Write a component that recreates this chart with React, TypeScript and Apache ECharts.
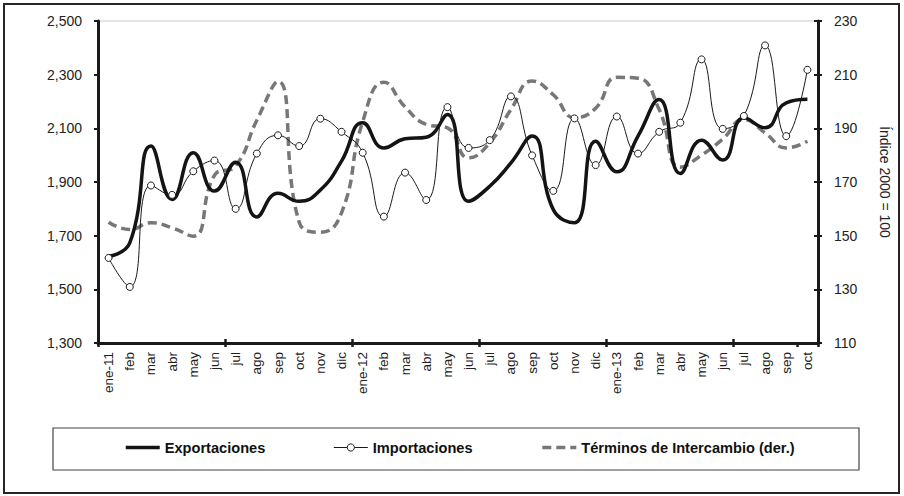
import React, { useEffect, useRef } from "react";
import * as echarts from "echarts";

const categories = [
  "ene-11", "feb", "mar", "abr", "may", "jun", "jul", "ago", "sep", "oct", "nov", "dic",
  "ene-12", "feb", "mar", "abr", "may", "jun", "jul", "ago", "sep", "oct", "nov", "dic",
  "ene-13", "feb", "mar", "abr", "may", "jun", "jul", "ago", "sep", "oct",
];

const exportaciones = [
  1623, 1673, 2034, 1835, 2009, 1866, 1974, 1770, 1858, 1828, 1870, 1978,
  2121, 2027, 2061, 2067, 2152, 1828, 1884, 1971, 2071, 1797, 1748, 2052,
  1938, 2071, 2207, 1932, 2056, 1982, 2139, 2102, 2195, 2208,
];

const importaciones = [
  1617, 1509, 1887, 1852, 1940, 1980, 1800, 2006, 2074, 2034, 2136, 2087,
  2009, 1771, 1935, 1833, 2179, 2027, 2056, 2219, 1999, 1867, 2137, 1963,
  2144, 2006, 2087, 2121, 2357, 2098, 2146, 2409, 2071, 2318,
];

const terminos = [
  155, 152.3, 154.8, 152.9, 149.8, 172.5, 176, 193, 207.5, 155, 151.3, 158.5,
  192.5, 207.2, 198, 191.5, 190.2, 179, 184.6, 197, 207.6, 202.5, 194, 197.5,
  209, 208.7, 197, 175.5, 180, 186, 193.3, 188.3, 182.7, 185.2,
];

const seriesNames = ["Exportaciones", "Importaciones", "Términos de Intercambio (der.)"];
const rightAxisName = "Índice 2000 = 100";

const FONT = "'Liberation Sans', Arial, sans-serif";

export default function App() {
  const ref = useRef<HTMLDivElement>(null);

  useEffect(() => {
    if (!ref.current) return;
    const chart = echarts.init(ref.current, undefined, { renderer: "svg" });
    const axisColor = "#1a1a1a";
    const yLabelStyle = { color: "#222", fontSize: 14, fontFamily: FONT };
    const xLabelStyle = { color: "#222", fontSize: 13.5, fontFamily: FONT };

    chart.setOption({
      animation: false,
      backgroundColor: "#fff",
      textStyle: { fontFamily: FONT },
      grid: {
        left: 98,
        right: 86,
        top: 21,
        bottom: 153,
        show: true,
        borderColor: "#cccccc",
        borderWidth: 1,
        backgroundColor: "transparent",
      },
      legend: {
        left: 124,
        top: 440,
        padding: 0,
        itemWidth: 34,
        itemHeight: 9,
        itemGap: 68,
        textStyle: { fontSize: 14.6, fontWeight: "bold", color: "#111", fontFamily: FONT },
        data: [
          {
            name: seriesNames[0],
            itemStyle: { opacity: 0 },
            lineStyle: { width: 3.5, color: "#141414" },
          },
          {
            name: seriesNames[1],
            lineStyle: { width: 1, color: "#1a1a1a" },
            itemStyle: { color: "#ffffff", borderColor: "#1a1a1a", borderWidth: 1 },
          },
          {
            name: seriesNames[2],
            itemStyle: { opacity: 0 },
            lineStyle: { width: 3.5, color: "#777777", type: [9, 5] },
          },
        ],
      },
      graphic: [
        {
          type: "rect",
          shape: { x: 4, y: 4, width: 895, height: 489 },
          style: { fill: "none", stroke: "#262626", lineWidth: 2 },
          silent: true,
        },
        {
          type: "rect",
          shape: { x: 53, y: 428, width: 806, height: 42 },
          style: { fill: "none", stroke: "#444", lineWidth: 1.2 },
          silent: true,
        },
      ],
      xAxis: [
        {
          type: "category",
          data: categories,
          position: "bottom",
          boundaryGap: true,
          axisLine: { show: true, lineStyle: { color: axisColor, width: 3 } },
          axisTick: { show: true, interval: 5, length: 4, lineStyle: { color: axisColor, width: 2.5 } },
          axisLabel: { ...xLabelStyle, interval: 0, rotate: 90, margin: 9 },
          splitLine: { show: false },
        },
        {
          type: "category",
          data: categories,
          position: "bottom",
          boundaryGap: true,
          axisLine: { show: false },
          axisTick: { show: true, inside: true, interval: 5, length: 4, lineStyle: { color: axisColor, width: 2.5 } },
          axisLabel: { show: false },
          splitLine: { show: false },
        },
      ],
      yAxis: [
        {
          type: "value",
          position: "left",
          min: 1300,
          max: 2500,
          interval: 200,
          axisLine: { show: true, lineStyle: { color: axisColor, width: 3 } },
          axisTick: { show: true, length: 4, lineStyle: { color: axisColor, width: 2 } },
          axisLabel: {
            ...yLabelStyle,
            margin: 16,
            formatter: (v: number) => v.toLocaleString("en-US"),
          },
          splitLine: { show: false },
        },
        {
          type: "value",
          position: "right",
          min: 110,
          max: 230,
          interval: 20,
          name: rightAxisName,
          nameLocation: "middle",
          nameRotate: -90,
          nameGap: 60,
          nameTextStyle: { color: "#222", fontSize: 14, fontFamily: FONT },
          axisLine: { show: true, lineStyle: { color: axisColor, width: 3 } },
          axisTick: { show: true, length: 4, lineStyle: { color: axisColor, width: 2 } },
          axisLabel: { ...yLabelStyle, margin: 16 },
          splitLine: { show: false },
        },
        {
          type: "value",
          position: "right",
          min: 110,
          max: 230,
          interval: 20,
          axisLine: { show: false },
          axisTick: { show: true, inside: true, length: 4, lineStyle: { color: axisColor, width: 2 } },
          axisLabel: { show: false },
          splitLine: { show: false },
        },
      ],
      series: [
        {
          name: seriesNames[0],
          type: "line",
          xAxisIndex: 0,
          yAxisIndex: 0,
          data: exportaciones,
          smooth: 0.5,
          symbol: "none",
          lineStyle: { color: "#141414", width: 3.5 },
          itemStyle: { color: "#141414" },
          z: 4,
        },
        {
          name: seriesNames[1],
          type: "line",
          xAxisIndex: 0,
          yAxisIndex: 0,
          data: importaciones,
          smooth: 0.5,
          symbol: "circle",
          symbolSize: 7,
          showSymbol: true,
          lineStyle: { color: "#1a1a1a", width: 1 },
          itemStyle: { color: "#ffffff", borderColor: "#1a1a1a", borderWidth: 1 },
          z: 5,
        },
        {
          name: seriesNames[2],
          type: "line",
          xAxisIndex: 0,
          yAxisIndex: 1,
          data: terminos,
          smooth: 0.5,
          symbol: "none",
          lineStyle: { color: "#777777", width: 3.5, type: [9, 5] },
          itemStyle: { color: "#777777" },
          z: 3,
        },
      ],
    });

    return () => chart.dispose();
  }, []);

  return (
    <div
      ref={ref}
      style={{ position: "fixed", left: 0, top: 0, width: 904, height: 496 }}
    />
  );
}
